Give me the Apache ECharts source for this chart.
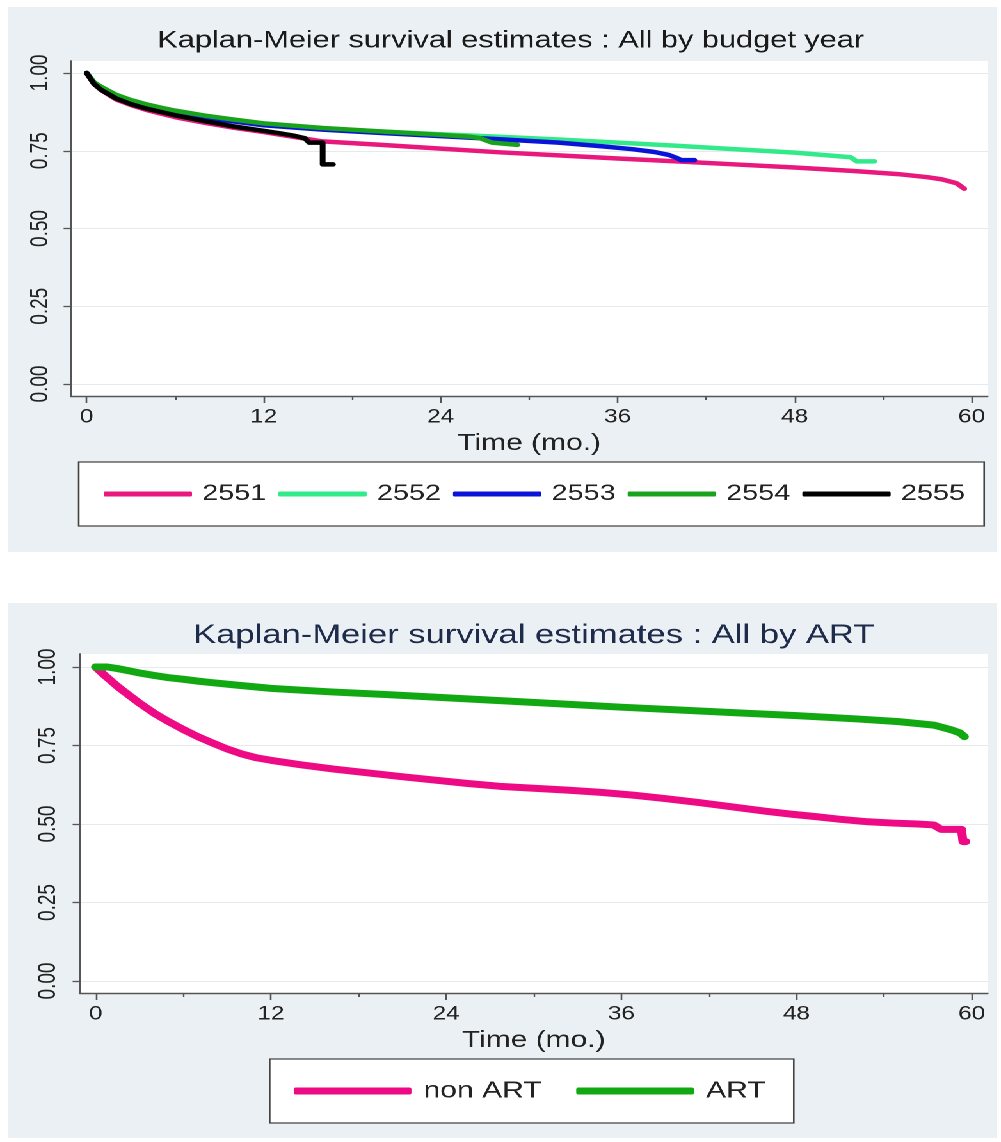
<!DOCTYPE html>
<html>
<head>
<meta charset="utf-8">
<script src="https://cdn.jsdelivr.net/npm/echarts@6/dist/echarts.min.js"></script>
<style>
  html, body { margin: 0; padding: 0; background: #fff; }
  /* the source picture is stretched sideways, so the whole stage is too */
  #stage { position: absolute; left: 0; top: 0; width: 782px; height: 1142px; transform: scaleX(1.28); transform-origin: 0 0; }
  .panel { position: absolute; left: 5.5px; width: 773.4px; }
  #km-year { top: 7px; height: 545px; }
  #km-art { top: 603px; height: 535px; }
</style>
</head>
<body>
<div id="stage">
  <div id="km-year" class="panel"></div>
  <div id="km-art" class="panel"></div>
</div>
<script>
const FONT = "'Liberation Sans', Arial, sans-serif";

const xTicks = [0, 12, 24, 36, 48, 60];
const xMinorTicks = [6, 18, 30, 42, 54];
const yTicks = [0, 0.25, 0.5, 0.75, 1];

// top panel: by budget year
const years = ["2551", "2552", "2553", "2554", "2555"];
const yearColors = ["#e8187c", "#33ea8a", "#0a14d8", "#19a31c", "#000000"];

const t2551 = [0, 0.5, 1, 2, 3, 4, 5, 6, 8, 10, 12, 14, 16, 20, 24, 28, 32, 36, 40, 44, 48, 52, 55, 57, 58, 59, 59.5];
const s2551 = [1, 0.965, 0.945, 0.915, 0.897, 0.882, 0.87, 0.858, 0.84, 0.824, 0.81, 0.795, 0.78, 0.769, 0.757, 0.745, 0.735, 0.725, 0.716, 0.706, 0.696, 0.685, 0.675, 0.665, 0.658, 0.645, 0.628];

const t2552 = [0, 0.5, 1, 2, 3, 4, 5, 6, 8, 10, 12, 16, 20, 24, 28, 32, 36, 40, 44, 48, 51.8, 52.2, 53.4];
const s2552 = [1, 0.97, 0.952, 0.927, 0.91, 0.897, 0.886, 0.876, 0.86, 0.847, 0.836, 0.822, 0.812, 0.803, 0.795, 0.786, 0.776, 0.766, 0.755, 0.744, 0.729, 0.716, 0.716];

const t2553 = [0, 0.5, 1, 2, 3, 4, 5, 6, 8, 10, 12, 16, 20, 24, 28, 32, 35, 37, 38.5, 39.5, 40, 40.3, 41.2];
const s2553 = [1, 0.968, 0.95, 0.925, 0.907, 0.894, 0.883, 0.873, 0.857, 0.844, 0.832, 0.818, 0.807, 0.797, 0.787, 0.776, 0.764, 0.755, 0.746, 0.736, 0.727, 0.72, 0.72];

const t2554 = [0, 0.5, 1, 2, 3, 4, 5, 6, 8, 10, 12, 16, 20, 24, 26, 26.7, 27.5, 29.2];
const s2554 = [1, 0.97, 0.955, 0.93, 0.913, 0.9, 0.889, 0.879, 0.863, 0.85, 0.838, 0.823, 0.812, 0.801, 0.795, 0.79, 0.776, 0.769];

const t2555 = [0, 0.5, 1, 2, 3, 4, 5, 6, 8, 10, 12, 13, 14, 14.8, 15.1, 16, 16, 16.7];
const s2555 = [1, 0.965, 0.945, 0.918, 0.9, 0.886, 0.875, 0.864, 0.845, 0.828, 0.814, 0.807, 0.799, 0.79, 0.776, 0.776, 0.706, 0.706];

// bottom panel: by ART
const artGroups = ["non ART", "ART"];
const artColors = ["#ee0a84", "#12a812"];

const tNonArt = [0, 0.5, 1, 1.5, 2, 3, 4, 5, 6, 7, 8, 9, 10, 11, 12, 14, 16.3, 18.6, 20.9, 23.2, 25.5, 27.7, 30, 32.3, 34.5, 36.8, 39, 41.4, 43.7, 46, 47.7, 49.4, 51, 52.9, 54.6, 56.3, 57.4, 57.9, 59.3, 59.4, 59.6];
const sNonArt = [1, 0.978, 0.958, 0.938, 0.92, 0.885, 0.853, 0.826, 0.801, 0.778, 0.758, 0.739, 0.723, 0.711, 0.703, 0.689, 0.675, 0.663, 0.651, 0.64, 0.629, 0.62, 0.614, 0.608, 0.601, 0.592, 0.581, 0.568, 0.554, 0.54, 0.531, 0.523, 0.515, 0.507, 0.503, 0.5, 0.497, 0.483, 0.483, 0.444, 0.444];

const tArt = [0, 0.8, 1.5, 2.6, 3, 4, 5, 6, 7, 8, 9.5, 12, 16, 20, 24, 28, 32, 36, 40, 44, 48, 52, 55, 57.4, 58.6, 59.2, 59.5];
const sArt = [1, 1, 0.995, 0.985, 0.981, 0.973, 0.966, 0.961, 0.955, 0.95, 0.943, 0.932, 0.921, 0.912, 0.902, 0.892, 0.882, 0.872, 0.863, 0.854, 0.845, 0.835, 0.826, 0.815, 0.8, 0.79, 0.778];

const zip = (t, s) => t.map((v, i) => [v, s[i]]);

const lineSeries = (name, t, s, color, width) => ({
  name,
  type: "line",
  data: zip(t, s),
  showSymbol: false,
  symbol: "none",
  color,
  lineStyle: { color, width, cap: "round", join: "round" },
  silent: true,
});

const kmOption = (cfg) => ({
  animation: false,
  backgroundColor: "#eaf0f3",
  textStyle: { fontFamily: FONT },
  title: {
    text: cfg.title,
    left: cfg.titleX,
    top: cfg.titleTop,
    textAlign: "center",
    padding: 0,
    textStyle: { fontFamily: FONT, fontSize: cfg.titleSize, fontWeight: "normal", color: cfg.titleColor },
  },
  grid: {
    show: true,
    backgroundColor: "#ffffff",
    borderWidth: 0,
    left: cfg.grid.left,
    top: cfg.grid.top,
    width: cfg.grid.width,
    height: cfg.grid.height,
  },
  xAxis: [
    {
      type: "value",
      position: "bottom",
      min: cfg.xMin,
      max: cfg.xMax,
      name: "Time (mo.)",
      nameLocation: "middle",
      nameGap: cfg.nameGap,
      nameTextStyle: { fontFamily: FONT, fontSize: 23.4, color: "#222" },
      axisLine: { onZero: false, lineStyle: { color: "#555", width: 1.4 } },
      axisTick: { customValues: xTicks, length: 7, lineStyle: { color: "#555", width: 1.3 } },
      axisLabel: { customValues: xTicks, margin: 12, fontFamily: FONT, fontSize: 19, color: "#222" },
      splitLine: { show: false },
    },
    {
      type: "value",
      position: "bottom",
      min: cfg.xMin,
      max: cfg.xMax,
      axisLine: { show: false, onZero: false },
      axisTick: { customValues: xMinorTicks, length: 4, lineStyle: { color: "#555", width: 1.2 } },
      axisLabel: { show: false },
      splitLine: { show: false },
    },
  ],
  yAxis: {
    type: "value",
    min: cfg.yMin,
    max: cfg.yMax,
    axisLine: { show: true, onZero: false, lineStyle: { color: "#555", width: 1.4 } },
    axisTick: { show: true, customValues: yTicks, length: 5.5, lineStyle: { color: "#555", width: 1.3 } },
    axisLabel: {
      customValues: yTicks,
      rotate: 90,
      margin: cfg.yLabelMargin,
      fontFamily: FONT,
      fontSize: 19,
      color: "#222",
      formatter: (v) => v.toFixed(2),
    },
    splitLine: { show: true, lineStyle: { color: "#e5eaed", width: 1 } },
  },
  legend: {
    data: cfg.names,
    left: cfg.legend.left,
    top: cfg.legend.top,
    orient: "horizontal",
    padding: cfg.legend.padding,
    itemWidth: cfg.legend.itemWidth,
    itemHeight: cfg.legend.itemHeight,
    itemGap: cfg.legend.itemGap,
    icon: "roundRect",
    backgroundColor: "#ffffff",
    borderColor: "#444",
    borderWidth: 1.3,
    borderRadius: 0,
    selectedMode: false,
    textStyle: {
      fontFamily: FONT,
      fontSize: cfg.legend.fontSize,
      color: "#222",
      lineHeight: 24,
      padding: [0, 0, 0, cfg.legend.textPad],
    },
  },
  series: cfg.series,
});

const yearChart = echarts.init(document.getElementById("km-year"), null, { devicePixelRatio: 2 });
yearChart.setOption(kmOption({
  title: "Kaplan-Meier survival estimates : All by budget year",
  titleX: 393,
  titleTop: 22,
  titleSize: 24,
  titleColor: "#1a1a1a",
  grid: { left: 49.2, top: 54, width: 716.4, height: 335 },
  xMin: -1.085,
  xMax: 61.085,
  yMin: -0.0386,
  yMax: 1.0386,
  nameGap: 29,
  yLabelMargin: 14,
  names: years,
  legend: { left: 55.5, top: 455, padding: [20, 15, 20, 19.5], itemWidth: 69, itemHeight: 5, itemGap: 9.4, fontSize: 22.5, textPad: 3 },
  series: [
    lineSeries(years[0], t2551, s2551, yearColors[0], 4.5),
    lineSeries(years[1], t2552, s2552, yearColors[1], 4.5),
    lineSeries(years[2], t2553, s2553, yearColors[2], 4.5),
    lineSeries(years[3], t2554, s2554, yearColors[3], 4.5),
    lineSeries(years[4], t2555, s2555, yearColors[4], 4.5),
  ],
}));

const artChart = echarts.init(document.getElementById("km-art"), null, { devicePixelRatio: 2 });
artChart.setOption(kmOption({
  title: "Kaplan-Meier survival estimates : All by ART",
  titleX: 411,
  titleTop: 19,
  titleSize: 27,
  titleColor: "#1f2b4b",
  grid: { left: 56.25, top: 51, width: 709.4, height: 339 },
  xMin: -1.096,
  xMax: 61.096,
  yMin: -0.0382,
  yMax: 1.0414,
  nameGap: 28,
  yLabelMargin: 15,
  names: artGroups,
  legend: { left: 204.7, top: 456, padding: [20, 22, 20, 18.75], itemWidth: 92, itemHeight: 7, itemGap: 27, fontSize: 23.5, textPad: 4.4 },
  series: [
    lineSeries(artGroups[0], tNonArt, sNonArt, artColors[0], 7),
    lineSeries(artGroups[1], tArt, sArt, artColors[1], 7),
  ],
}));
</script>
</body>
</html>
